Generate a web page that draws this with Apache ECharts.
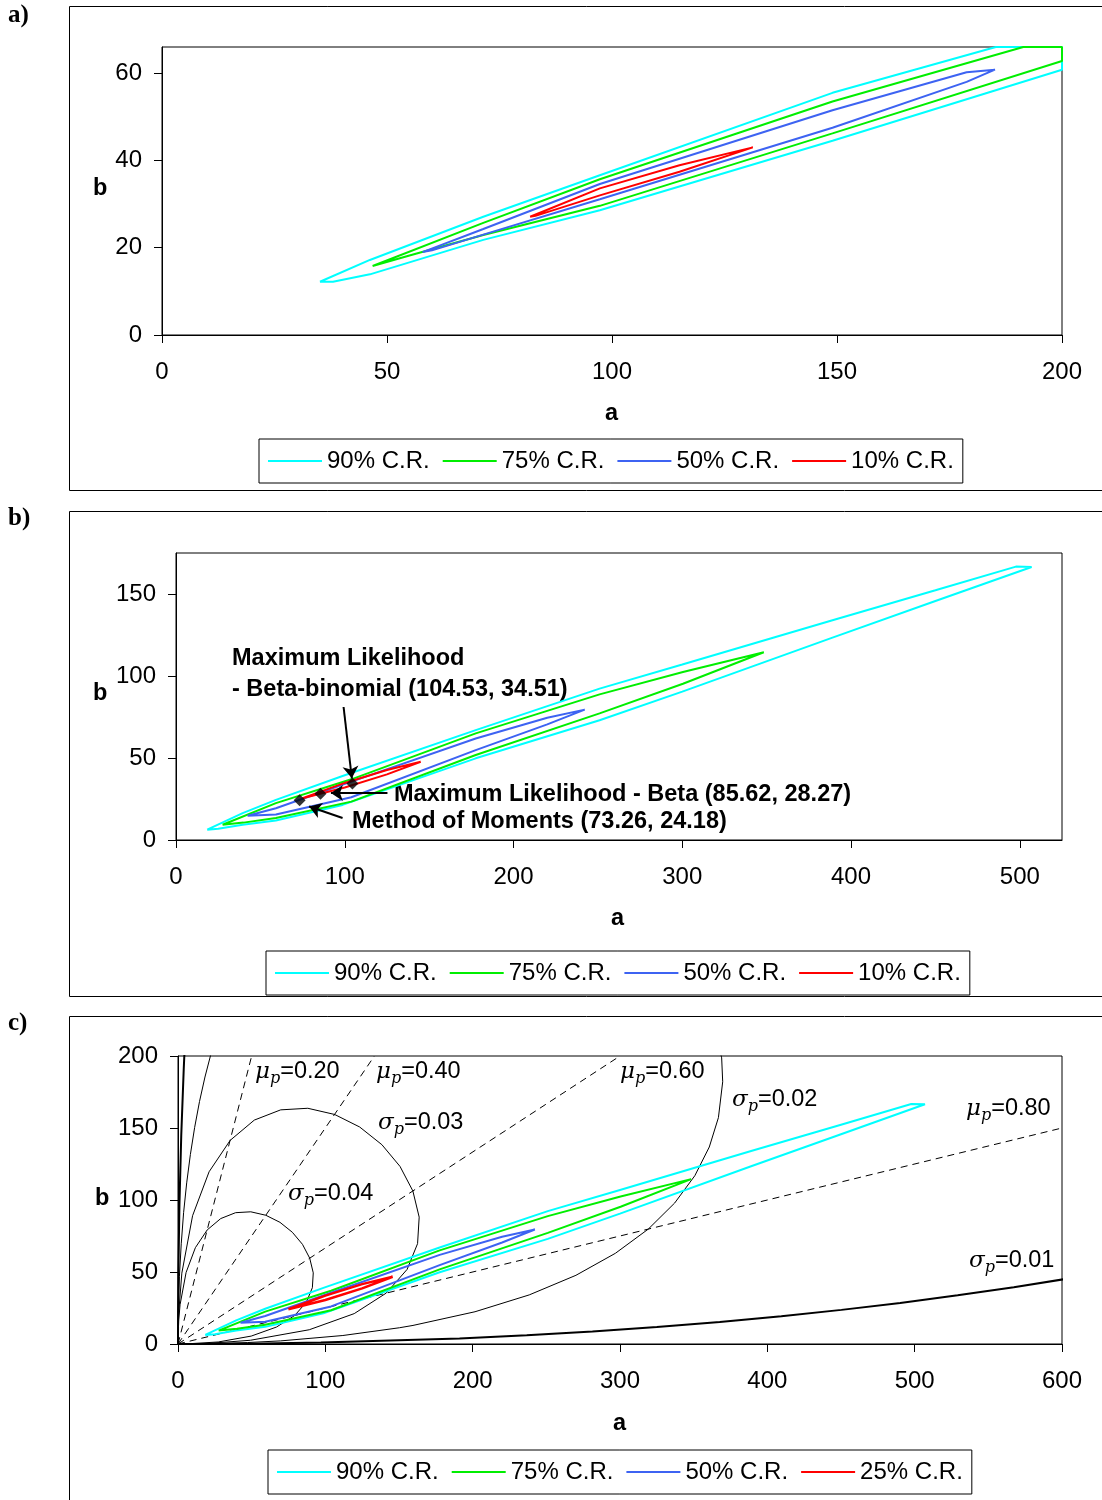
<!DOCTYPE html>
<html>
<head>
<meta charset="utf-8">
<script src="https://cdn.jsdelivr.net/npm/echarts@6/dist/echarts.min.js"></script>
<style>html,body{margin:0;padding:0;background:#fff}#chart{width:1102px;height:1500px}</style>
</head>
<body>
<div id="chart"></div>
<script>
// ---------- Panel a) contour outlines [a, b] ----------
const aCR90 = [[35.1,12.2],[46.2,17.2],[71.4,27.1],[97.3,36.6],[149,55.5],[185.3,66],[200,66],[200,60.8],[149,44.5],[97.3,28.6],[71.4,21.8],[46.2,13.9],[38,12.2],[35.1,12.2]];
const aCR75 = [[46.8,15.8],[71.4,25.7],[97.3,35.7],[149,53.5],[191.4,66],[200,66],[200,62.8],[149,46.2],[97.3,29.6],[71.4,22.9],[55,18.2],[46.8,15.8]];
const aCR50 = [[57.9,19.0],[71.4,24.3],[97.3,34.6],[149,51.5],[178.8,60.2],[185.1,60.8],[178.8,58.0],[149,47.5],[97.3,31.1],[71.4,23.0],[60,19.4],[57.9,19.0]];
const aCR10 = [[81.8,27.1],[97.3,33.6],[115,38.9],[131.3,43.0],[115,37.4],[97.3,32.0],[83,27.3],[81.8,27.1]];

// ---------- Panels b) and c) contour outlines ----------
const bcCR90 = [[18.5,6.3],[39.5,16.4],[59.2,24.5],[98.7,39],[177.6,67],[251,92.3],[300,107],[389,134],[450,152.3],[497.7,166.7],[507,166.5],[450,145.7],[389,123.4],[300,90.5],[251,73],[177.6,49.8],[98.7,21.4],[59.2,11.9],[39.5,9.3],[25,6.8],[18.5,6.3]];
const bcCR75 = [[27.6,9.3],[59.2,22.5],[103.9,37],[177.6,65],[251,88.8],[300.4,102.4],[348.3,114.5],[300.4,95.3],[251,77.2],[177.6,51.8],[103.9,23.4],[59.2,13.4],[40,10.6],[27.6,9.3]];
const bcCR50 = [[42.4,14.8],[59.2,19.4],[103.9,35.6],[177.6,61.9],[220,74.5],[242.2,79.5],[220,70.5],[177.6,54.8],[103.9,26.1],[59.2,15.5],[42.4,14.8]];
const bCR10 = [[75,25.5],[100,34.8],[125,42.7],[145,47.7],[125,40.0],[100,32.0],[75,25.5]];
const cCR25 = [[74.9,24.1],[100,33.6],[125,41.6],[145.7,46.7],[125,38.6],[100,30.6],[74.9,24.1]];

// ---------- Panel b) estimates and arrows ----------
const bEstimates = [[104.53,34.51],[85.62,28.27],[73.26,24.18]];
const bArrows = [[[99.3,81.1],[104.2,37.6]],[[125.3,28.7],[91.8,28.7]],[[98.7,13.4],[78.9,20.4]]];

// ---------- Panel c) constant mean lines (dashed) ----------
const mu20 = [[0,0],[50,200]];
const mu40 = [[0,0],[133.3,200]];
const mu60 = [[0,0],[300,200]];
const mu80 = [[0,0],[600,150]];

// ---------- Panel c) constant sd curves ----------
const sig04 = [[0,0],[0.05,5.1],[0.5,16.7],[1.4,27.3],[5.5,49.7],[11.8,66.9],[19.8,79.2],[29.0,87.1],[39.1,91.2],[49.4,91.8],[59.6,89.4],[69.2,84.5],[77.6,77.6],[84.5,69.2],[89.4,59.6],[91.8,49.4],[91.2,39.1],[87.1,29.0],[79.2,19.8],[66.9,11.8],[49.7,5.5],[27.3,1.4],[5.1,0.05],[0,0]];
const sig03 = [[0,0],[0.02,4.5],[0.4,20.4],[2.6,49.2],[9.9,89.1],[21.1,119.6],[35.4,141.4],[51.8,155.5],[69.7,162.6],[88.1,163.7],[106.3,159.4],[123.3,150.7],[138.4,138.4],[150.7,123.3],[159.4,106.3],[163.7,88.1],[162.6,69.7],[155.5,51.8],[141.4,35.4],[119.6,21.1],[89.1,9.9],[49.2,2.6],[20.4,0.4],[4.5,0.02],[0,0]];
const sig02 = [[0,0],[0.01,4.0],[0.24,23.5],[0.96,47.0],[2.2,69.6],[3.8,91.2],[5.9,111.9],[8.4,131.6],[11.3,150.4],[14.6,168.4],[18.3,185.4],[22.4,201.6],[79.8,319.2],[198.7,369.0],[312,312],[359.4,239.6],[369.0,198.7],[369.7,182.1],[366.8,157.2],[360.6,136.8],[350.8,116.9],[337.1,97.9],[319.2,79.8],[296.9,63.0],[270.1,47.7],[238.4,34.1],[201.6,22.4],[159.5,12.9],[150.4,11.3],[111.9,5.9],[69.6,2.15],[47.0,1.0],[4.0,0.01],[0,0]];
const sig01 = [[0,0],[0.002,4],[0.04,18.9],[0.24,48.5],[0.98,97.0],[2.2,144.6],[3.9,191.1],[4.3,200.3],[89.9,809.1],[1249.5,1249.5],[809.1,89.9],[604.5,45.5],[567.3,39.4],[529.2,33.8],[490.2,28.5],[450.3,23.7],[409.5,19.3],[367.7,15.3],[325.0,11.8],[281.3,8.7],[236.7,6.1],[191.1,3.9],[97.0,0.98],[48.5,0.24],[4,0.002],[0,0]];

// ---------- Tick values ----------
const aXTicks = [0,50,100,150,200];
const aYTicks = [0,20,40,60];
const bXTicks = [0,100,200,300,400,500];
const bYTicks = [0,50,100,150];
const cXTicks = [0,100,200,300,400,500,600];
const cYTicks = [0,50,100,150,200];

const legendAB = ['90% C.R.','75% C.R.','50% C.R.','10% C.R.'];
const legendC = ['90% C.R.','75% C.R.','50% C.R.','25% C.R.'];

const FONT = 'Liberation Sans, Arial, sans-serif';
const COL = {c90:'#00FFFF', c75:'#00EE00', c50:'#3D63F2', c10:'#FF0000'};

function xAx(g, max, ticks) {
  return {type:'value', gridIndex:g, min:0, max:max,
    axisLine:{show:true, onZero:false, lineStyle:{color:'#000', width:1}},
    axisTick:{show:true, inside:false, length:8, lineStyle:{color:'#000'}, customValues:ticks},
    axisLabel:{color:'#000', fontSize:24, fontFamily:FONT, margin:25, customValues:ticks},
    splitLine:{show:false}};
}
function yAx(g, max, ticks) {
  return {type:'value', gridIndex:g, min:0, max:max,
    axisLine:{show:true, onZero:false, lineStyle:{color:'#000', width:1}},
    axisTick:{show:true, inside:false, length:8, lineStyle:{color:'#000'}, customValues:ticks},
    axisLabel:{color:'#000', fontSize:24, fontFamily:FONT, margin:20, customValues:ticks},
    splitLine:{show:false}};
}
function contour(name, color, data, g, w) {
  return {type:'line', name:name, xAxisIndex:g, yAxisIndex:g, data:data, symbol:'none', showSymbol:false,
    lineStyle:{color:color, width:w}, itemStyle:{color:color}, z:3, silent:true};
}
function blackLine(data, g, w, dashed) {
  return {type:'line', xAxisIndex:g, yAxisIndex:g, data:data, symbol:'none', showSymbol:false,
    lineStyle:{color:'#000', width:w, type: dashed ? [7,5] : 'solid'}, itemStyle:{color:'#000'}, z:2, silent:true};
}
function legend(left, top, names) {
  return {left:left, top:top, orient:'horizontal', data:names, icon:'rect', itemWidth:54, itemHeight:2,
    itemGap:13, padding:[9,9,9,9], borderColor:'#000', borderWidth:1, selectedMode:false,
    textStyle:{fontSize:24, fontFamily:FONT, color:'#000', lineHeight:26}};
}
function txt(x, cy, s, font) {
  return {type:'text', left:x, top:cy-13, style:{text:s, font:font || ('bold 23.5px ' + FONT), fill:'#000'}};
}
function greek(x, cy, g, val) {
  return {type:'text', left:x, top:cy-15, style:{
    text:'{g|' + g + '}{s|p}{t|=' + val + '}',
    rich:{
      g:{fontSize:23, fontStyle:'italic', fontFamily:'DejaVu Serif, serif', lineHeight:30, verticalAlign:'middle', fill:'#000'},
      s:{fontSize:16, fontStyle:'italic', fontFamily:'DejaVu Serif, serif', lineHeight:30, verticalAlign:'bottom', fill:'#000'},
      t:{fontSize:23.5, fontFamily:FONT, lineHeight:30, verticalAlign:'middle', fill:'#000'}
    }}};
}

const option = {
  animation:false,
  backgroundColor:'#fff',
  grid:[
    {left:162, top:47, width:900, height:288, show:true, borderColor:'#000', borderWidth:1},
    {left:176, top:553, width:886, height:287, show:true, borderColor:'#000', borderWidth:1},
    {left:178, top:1056, width:884, height:288, show:true, borderColor:'#000', borderWidth:1}
  ],
  xAxis:[xAx(0,200,aXTicks), xAx(1,525,bXTicks), xAx(2,600,cXTicks)],
  yAxis:[yAx(0,66,aYTicks), yAx(1,175,bYTicks), yAx(2,200,cYTicks)],
  legend:[legend(259,439,legendAB), legend(266,951,legendAB), legend(268,1450,legendC)],
  series:[
    contour('90% C.R.', COL.c90, aCR90, 0, 2),
    contour('75% C.R.', COL.c75, aCR75, 0, 2),
    contour('50% C.R.', COL.c50, aCR50, 0, 2),
    contour('10% C.R.', COL.c10, aCR10, 0, 2),

    contour('90% C.R.', COL.c90, bcCR90, 1, 2),
    contour('75% C.R.', COL.c75, bcCR75, 1, 2),
    contour('50% C.R.', COL.c50, bcCR50, 1, 2),
    contour('10% C.R.', COL.c10, bCR10, 1, 2),
    {type:'scatter', xAxisIndex:1, yAxisIndex:1, data:bEstimates, symbol:'diamond', symbolSize:12,
      itemStyle:{color:'#000'}, z:5, silent:true,
      markLine:{silent:true, symbol:['none','arrow'], symbolSize:12, animation:false,
        lineStyle:{color:'#000', width:2, type:'solid'}, label:{show:false},
        data:bArrows.map(p => [{coord:p[0]},{coord:p[1]}])}},

    blackLine(mu20, 2, 1, true),
    blackLine(mu40, 2, 1, true),
    blackLine(mu60, 2, 1, true),
    blackLine(mu80, 2, 1, true),
    blackLine(sig04, 2, 1, false),
    blackLine(sig03, 2, 1, false),
    blackLine(sig02, 2, 1, false),
    blackLine(sig01, 2, 2, false),
    contour('90% C.R.', COL.c90, bcCR90, 2, 2),
    contour('75% C.R.', COL.c75, bcCR75, 2, 2),
    contour('50% C.R.', COL.c50, bcCR50, 2, 2),
    contour('25% C.R.', COL.c10, cCR25, 2, 2.5)
  ],
  graphic:[
    {type:'rect', shape:{x:69.5, y:6.5, width:1100, height:484}, style:{fill:'none', stroke:'#000', lineWidth:1}, silent:true},
    {type:'rect', shape:{x:69.5, y:511.5, width:1100, height:485}, style:{fill:'none', stroke:'#000', lineWidth:1}, silent:true},
    {type:'rect', shape:{x:69.5, y:1016.5, width:1100, height:520}, style:{fill:'none', stroke:'#000', lineWidth:1}, silent:true},
    {type:'text', left:8, top:3, style:{text:'a)', font:'bold 25px Liberation Serif, serif', fill:'#000'}},
    {type:'text', left:8, top:506, style:{text:'b)', font:'bold 25px Liberation Serif, serif', fill:'#000'}},
    {type:'text', left:8, top:1011, style:{text:'c)', font:'bold 25px Liberation Serif, serif', fill:'#000'}},
    txt(93, 190, 'b'), txt(605, 415, 'a'),
    txt(93, 695, 'b'), txt(611, 920, 'a'),
    txt(95, 1200, 'b'), txt(613, 1425, 'a'),
    txt(232, 660, 'Maximum Likelihood'),
    txt(232, 691, '- Beta-binomial (104.53, 34.51)'),
    txt(394, 796, 'Maximum Likelihood - Beta (85.62, 28.27)'),
    txt(352, 823, 'Method of Moments (73.26, 24.18)'),
    greek(255, 1075, 'μ', '0.20'),
    greek(376, 1075, 'μ', '0.40'),
    greek(620, 1075, 'μ', '0.60'),
    greek(966, 1112, 'μ', '0.80'),
    greek(732, 1103, 'σ', '0.02'),
    greek(378, 1126, 'σ', '0.03'),
    greek(288, 1197, 'σ', '0.04'),
    greek(969, 1264, 'σ', '0.01')
  ]
};
const chart = echarts.init(document.getElementById('chart'), null, {renderer:'canvas'});
chart.setOption(option);
</script>
</body>
</html>
